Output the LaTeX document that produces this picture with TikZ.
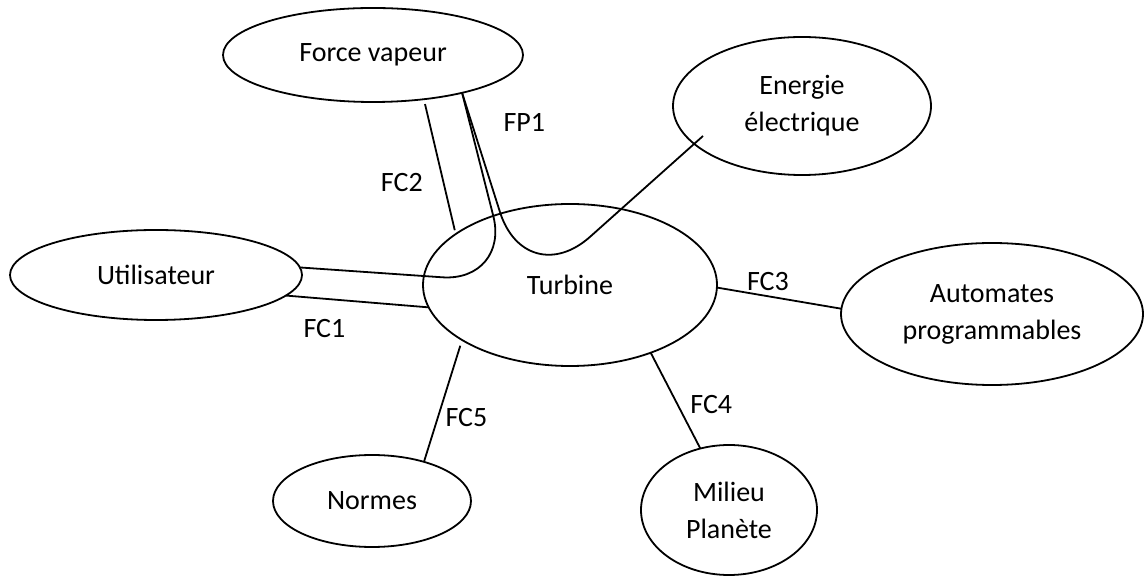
\documentclass[tikz,border=0pt]{standalone}
\usepackage{fontspec}
\setmainfont{Carlito}
\usetikzlibrary{shapes.geometric}

\begin{document}
\begin{tikzpicture}[x=0.5pt, y=-0.5pt,
	bloc/.style={ellipse, draw, line width=0.9pt, inner sep=0pt, outer sep=0pt, align=center, font=\fontsize{14}{18.5}\selectfont},
	lien/.style={line width=0.9pt},
	etiq/.style={inner sep=0pt, font=\fontsize{14}{17}\selectfont}]
	\useasboundingbox (0,0) rectangle (1145,576);

	\node[bloc, minimum width=150pt, minimum height=47pt] (force) at (373,55) {Force vapeur};
	\node[bloc, minimum width=129pt, minimum height=69pt] (energie) at (802,106) {Energie\\électrique};
	\node[bloc, minimum width=146pt, minimum height=45pt] (util) at (156,275) {Utilisateur};
	\node[bloc, minimum width=147pt, minimum height=81pt] (turbine) at (570,285) {Turbine};
	\node[bloc, minimum width=151pt, minimum height=71pt] (autom) at (992,314) {Automates\\programmables};
	\node[bloc, minimum width=99pt, minimum height=46pt] (normes) at (372,501) {Normes};
	\node[bloc, minimum width=88pt, minimum height=65pt] (milieu) at (729,510) {Milieu\\Planète};

	\coordinate (coudeA) at (510,282);
	\coordinate (coudeB) at (526,294);
	\coordinate (fp1end) at (703,136);

	\draw[lien] (util.-9) -- node[etiq, pos=0.27, below=10pt] {FC1} (turbine.189);
	\draw[lien, shorten <=2.5pt, shorten >=2pt] (force.-41) -- node[etiq, pos=0.62, left=10pt] {FC2} (turbine.156);
	\draw[lien] (turbine.-1) -- node[etiq, pos=0.41, above=2.5pt] {FC3} (autom.178);
	\draw[lien] (turbine.-40) -- node[etiq, pos=0.54, right=6pt] {FC4} (milieu.115);
	\draw[lien, shorten <=3pt] (turbine.207) -- node[etiq, pos=0.64, right=3.5pt] {FC5} (normes.37);
	\draw[lien, rounded corners=34pt] (util.3) -- (coudeA) -- (force.-23);
	\draw[lien, rounded corners=43pt] (force.-23) -- node[etiq, pos=0.15, right=15.5pt] {FP1} (coudeB) -- (fp1end);
\end{tikzpicture}
\end{document}
